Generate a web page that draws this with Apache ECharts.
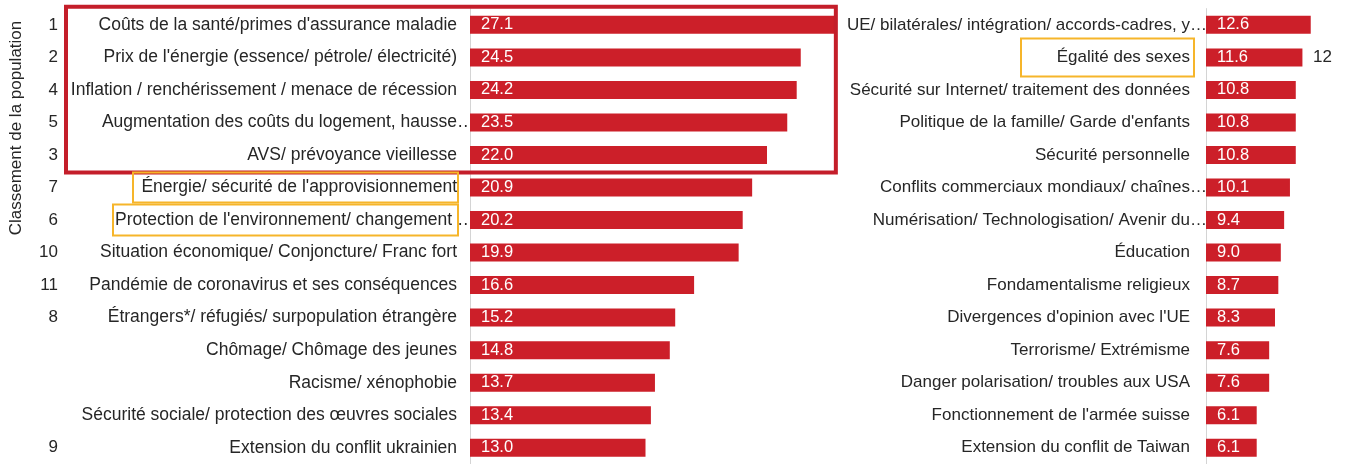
<!DOCTYPE html>
<html>
<head>
<meta charset="utf-8">
<script src="https://cdn.jsdelivr.net/npm/echarts@6/dist/echarts.min.js"></script>
<style>
html,body{margin:0;padding:0;background:#fff;}
#c{width:1354px;height:464px;}
</style>
</head>
<body>
<div id="c"></div>
<script>
// ---- data ----
var leftCategories = [
  "Coûts de la santé/primes d'assurance maladie",
  "Prix de l'énergie (essence/ pétrole/ électricité)",
  "Inflation / renchérissement / menace de récession",
  "Augmentation des coûts du logement, hausse…",
  "AVS/ prévoyance vieillesse",
  "Énergie/ sécurité de l'approvisionnement",
  "Protection de l'environnement/ changement …",
  "Situation économique/ Conjoncture/ Franc fort",
  "Pandémie de coronavirus et ses conséquences",
  "Étrangers*/ réfugiés/ surpopulation étrangère",
  "Chômage/ Chômage des jeunes",
  "Racisme/ xénophobie",
  "Sécurité sociale/ protection des œuvres sociales",
  "Extension du conflit ukrainien"
];
var leftValues = [27.1, 24.5, 24.2, 23.5, 22.0, 20.9, 20.2, 19.9, 16.6, 15.2, 14.8, 13.7, 13.4, 13.0];
var leftRanks = ["1", "2", "4", "5", "3", "7", "6", "10", "11", "8", "", "", "", "9"];

var rightCategories = [
  "UE/ bilatérales/ intégration/ accords-cadres, y…",
  "Égalité des sexes",
  "Sécurité sur Internet/ traitement des données",
  "Politique de la famille/ Garde d'enfants",
  "Sécurité personnelle",
  "Conflits commerciaux mondiaux/ chaînes…",
  "Numérisation/ Technologisation/ Avenir du…",
  "Éducation",
  "Fondamentalisme religieux",
  "Divergences d'opinion avec l'UE",
  "Terrorisme/ Extrémisme",
  "Danger polarisation/ troubles aux USA",
  "Fonctionnement de l'armée suisse",
  "Extension du conflit de Taiwan"
];
var rightValues = [12.6, 11.6, 10.8, 10.8, 10.8, 10.1, 9.4, 9.0, 8.7, 8.3, 7.6, 7.6, 6.1, 6.1];
var rightRanks = ["", "12", "", "", "", "", "", "", "", "", "", "", "", ""];

var yTitle = "Classement de la population";

// ---- styles ----
var FONT = "Liberation Sans, Arial, Helvetica, sans-serif";
var FS = 17;
var FSL = 17.5;
var FSR = 17;
var TXT = "#262626";
var RED = "#cc1f29";
var BOX_RED = "#c41e2a";
var ORANGE = "#f6b52a";

var chart = echarts.init(document.getElementById('c'), null, {renderer: 'canvas'});

function valueLabel() {
  return {
    show: true, position: 'insideLeft', distance: 11,
    color: '#fff', fontSize: 16.5, fontFamily: FONT,
    formatter: function (p) { return p.value.toFixed(1); }
  };
}

// truncated labels: ellipsis hangs past the label edge
function catFormatter(v) {
  if (v.charAt(v.length - 1) === '…') {
    return '{m|' + v.slice(0, -1) + '}{e|…}';
  }
  return v;
}
function catRich(fs) {
  return {
    m: {align: 'left', fontSize: fs, fontFamily: FONT, color: TXT},
    e: {align: 'left', width: 0.01, fontSize: fs, fontFamily: FONT, color: TXT}
  };
}

var option = {
  animation: false,
  backgroundColor: '#fff',
  grid: [
    {left: 470, top: 8.6, width: 405, height: 460},
    {left: 1206, top: 8.6, width: 133, height: 460}
  ],
  xAxis: [
    {gridIndex: 0, type: 'value', min: 0, max: 30, show: false},
    {gridIndex: 1, type: 'value', min: 0, max: 16, show: false}
  ],
  yAxis: [
    {gridIndex: 0, type: 'category', inverse: true, data: leftCategories,
      axisLine: {show: true, lineStyle: {color: '#d4d4d4', width: 1}},
      axisTick: {show: false},
      axisLabel: {margin: 13, fontSize: FSL, color: TXT, fontFamily: FONT, formatter: catFormatter, rich: catRich(FSL)}},
    {gridIndex: 0, type: 'category', inverse: true, data: leftRanks, position: 'left', offset: 412,
      axisLine: {show: false}, axisTick: {show: false},
      axisLabel: {margin: 0, fontSize: FS, color: TXT, fontFamily: FONT}},
    {gridIndex: 1, type: 'category', inverse: true, data: rightCategories,
      axisLine: {show: true, lineStyle: {color: '#d4d4d4', width: 1}},
      axisTick: {show: false},
      axisLabel: {margin: 16, fontSize: FSR, color: TXT, fontFamily: FONT, formatter: catFormatter, rich: catRich(FSR)}},
    {gridIndex: 1, type: 'category', inverse: true, data: rightRanks, position: 'right', offset: -26,
      axisLine: {show: false}, axisTick: {show: false},
      axisLabel: {margin: 0, fontSize: FS, color: TXT, fontFamily: FONT, align: 'left'}}
  ],
  series: [
    {type: 'bar', xAxisIndex: 0, yAxisIndex: 0, data: leftValues, barWidth: 18,
      itemStyle: {color: RED}, label: valueLabel()},
    {type: 'bar', xAxisIndex: 1, yAxisIndex: 2, data: rightValues, barWidth: 18,
      itemStyle: {color: RED}, label: valueLabel()}
  ]
};
chart.setOption(option);

// annotation boxes positioned from the chart's own scales
function py(axisIdx, idx) {
  return chart.convertToPixel({yAxisIndex: axisIdx}, idx);
}
function px(axisIdx, v) {
  return chart.convertToPixel({xAxisIndex: axisIdx}, v);
}
var r0 = py(0, 0), r4 = py(0, 4), r5 = py(0, 5), r6 = py(0, 6), q1 = py(2, 1);
var boxRight = px(0, leftValues[0]);
chart.setOption({
  graphic: [
    {type: 'rect', shape: {x: 66, y: r0 - 18, width: boxRight - 66, height: (r4 + 17.5) - (r0 - 18)},
      style: {fill: 'none', stroke: BOX_RED, lineWidth: 4}, z: 100},
    {type: 'rect', shape: {x: 133, y: r5 - 15, width: 325, height: 30},
      style: {fill: 'none', stroke: ORANGE, lineWidth: 2}, z: 100},
    {type: 'rect', shape: {x: 113, y: r6 - 15.5, width: 345, height: 31},
      style: {fill: 'none', stroke: ORANGE, lineWidth: 2}, z: 100},
    {type: 'rect', shape: {x: 1021, y: q1 - 19, width: 173, height: 38},
      style: {fill: 'none', stroke: ORANGE, lineWidth: 2}, z: 100},
    {type: 'text', x: 16, y: 128, rotation: Math.PI / 2,
      style: {text: yTitle, fill: TXT, font: FS + 'px ' + FONT, align: 'center', verticalAlign: 'middle'}}
  ]
});
</script>
</body>
</html>
